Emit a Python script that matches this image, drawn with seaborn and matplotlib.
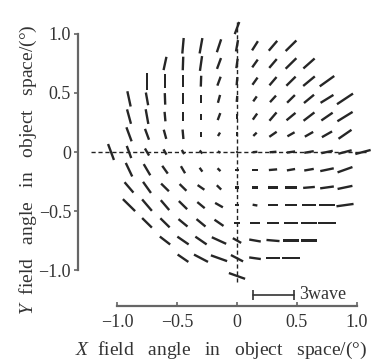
import numpy as np
import matplotlib.pyplot as plt
import seaborn as sns

# field grid: step between field points (deg), rows listed from top (k=7) to bottom (k=-7)
step = 0.15
row_k = [7, 6, 5, 4, 3, 2, 1, 0, -1, -2, -3, -4, -5, -6, -7]

# orientation of each astigmatic line (deg, from +x), left to right in each row
row_angles = [
    [70],
    [85, 80, 72, 80, 58, 50, 45],
    [78, 88, 82, 70, 82, 55, 50, 45, 42],
    [90, 90, 90, 88, 70, 85, 55, 50, 45, 40, 36],
    [102, 100, 92, 90, 90, 75, 85, 55, 48, 45, 40, 32, 34],
    [105, 100, 95, 90, 90, 70, 90, 55, 50, 40, 38, 35, 32],
    [110, 110, 105, 95, 90, 60, 90, 45, 35, 30, 30, 30, 35],
    [110, 110, 120, 120, 120, 130, 150, 0, 5, 5, 8, 10, 12, 15, 15],
    [115, 120, 125, 120, 125, 135, 0, 0, 5, 10, 10, 12, 20],
    [130, 125, 135, 135, 145, 135, 0, 0, 0, 0, 5, 8, 12],
    [135, 130, 130, 135, 140, 150, 0, 170, 0, 0, 0, 0, 8],
    [135, 135, 140, 140, 145, 0, 0, 0, 0, 0, 0],
    [142, 145, 145, 155, 150, 170, 175, 0, 0],
    [145, 152, 160, 152, 172, 180, 180],
    [160],
]

# magnitude of each line (waves)
row_lengths = [
    [0.95],
    [1.15, 1.15, 1.0, 0.85, 0.8, 0.95, 1.1],
    [1.0, 1.0, 1.1, 0.85, 0.7, 0.7, 0.85, 1.1, 1.1],
    [1.25, 1.0, 0.85, 0.8, 0.7, 0.6, 0.65, 0.8, 0.95, 1.1, 1.3],
    [1.15, 0.95, 0.85, 0.8, 0.6, 0.6, 0.45, 0.45, 0.65, 0.8, 0.95, 1.1, 1.4],
    [1.1, 1.1, 0.7, 0.7, 0.45, 0.55, 0.35, 0.55, 0.8, 0.85, 1.0, 1.0, 1.3],
    [1.1, 0.85, 0.7, 0.7, 0.35, 0.3, 0.3, 0.35, 0.65, 0.6, 0.7, 0.85, 1.15],
    [1.25, 0.95, 0.6, 0.45, 0.35, 0.3, 0.2, 0.1, 0.35, 0.5, 0.6, 0.7, 0.85, 1.0, 1.15],
    [1.1, 0.95, 0.7, 0.6, 0.35, 0.3, 0.3, 0.45, 0.6, 0.6, 0.7, 1.0, 1.15],
    [1.0, 1.0, 0.8, 0.7, 0.6, 0.45, 0.35, 0.45, 0.7, 0.8, 0.85, 1.0, 1.1],
    [1.25, 1.1, 0.95, 0.85, 0.7, 0.65, 0.35, 0.35, 0.7, 0.85, 1.0, 1.15, 1.25],
    [1.0, 0.95, 0.85, 0.85, 0.8, 0.45, 0.7, 0.85, 1.0, 1.1, 1.25],
    [0.95, 1.0, 1.0, 1.15, 0.7, 0.85, 0.95, 1.1, 1.15],
    [0.95, 1.15, 1.25, 1.0, 0.85, 0.95, 1.25],
    [1.25],
]

wave_scale = 0.115      # deg of field per wave
bar_waves = 3
ticks = [-1.0, -0.5, 0, 0.5, 1.0]
xtick_labels = ["\u22121.0", "\u22120.5", "0", "0.5", "1.0"]
ytick_labels = ["\u22121.0", "\u22120.5", "0", "0.5", "1.0"]

sns.set_theme(style="ticks")
plt.rcParams["font.family"] = ["Liberation Serif", "DejaVu Serif"]
plt.rcParams["mathtext.fontset"] = "custom"
plt.rcParams["mathtext.it"] = "Liberation Serif:italic"
plt.rcParams["mathtext.rm"] = "Liberation Serif"

xs, ys, us, vs = [], [], [], []
for k, ang, ln in zip(row_k, row_angles, row_lengths):
    n = len(ang)
    half = (n - 1) // 2
    a = np.radians(ang)
    l = np.array(ln)
    xs += list((np.arange(n) - half) * step)
    ys += [k * step] * n
    us += list(l * np.cos(a))
    vs += list(l * np.sin(a))

fig = plt.figure(figsize=(3.73, 3.62), dpi=100)
ax = fig.add_axes([0.2043, 0.1497, 0.7914, 0.7956])
ax.set_xlim(-1.34, 1.12)
ax.set_ylim(-1.32, 1.12)

# dashed field axes
ax.plot([-1.22, 1.08], [0, 0], ls=(0, (3, 2)), color="#222222", lw=1.0, zorder=1)
ax.plot([0, 0], [-1.1, 1.1], ls=(0, (3, 2)), color="#222222", lw=1.0, zorder=1)

ax.quiver(xs, ys, us, vs, angles="xy", scale_units="xy", scale=1 / wave_scale,
          pivot="middle", headwidth=1, headlength=0, headaxislength=0,
          width=0.008, color="#262626", zorder=2)

# scale bar
bx = 0.13
ax.plot([bx, bx + bar_waves * wave_scale], [-1.21, -1.21], color="#333333", lw=1.2,
        marker="|", markersize=7, markeredgewidth=1.2)
ax.text(bx + bar_waves * wave_scale + 0.04, -1.21, f"{bar_waves}wave", fontsize=13,
        va="center", ha="left", color="#333333")

for s in ["top", "right"]:
    ax.spines[s].set_visible(False)
ax.spines["left"].set_position(("data", -1.325))
ax.spines["left"].set_bounds(-1, 1)
ax.spines["bottom"].set_position(("data", -1.305))
ax.spines["bottom"].set_bounds(-1, 1)
for s in ["left", "bottom"]:
    ax.spines[s].set_color("#666666")
    ax.spines[s].set_linewidth(1.6)

ax.set_xticks(ticks)
ax.set_xticklabels(xtick_labels)
ax.set_yticks(ticks)
ax.set_yticklabels(ytick_labels)
ax.tick_params(axis="x", direction="in", length=3, width=1.2, colors="#666666",
               labelcolor="#333333", labelsize=13, pad=6)
ax.tick_params(axis="y", direction="out", length=3, width=1.2, colors="#666666",
               labelcolor="#333333", labelsize=13, pad=2)

ax.set_xlabel("$X$  field   angle   in   object   space/(\u00b0)", fontsize=14, color="#333333")
ax.set_ylabel("$Y$  field   angle   in   object   space/(\u00b0)", fontsize=14, color="#333333")
ax.xaxis.set_label_coords(0.49, -0.112)
ax.yaxis.set_label_coords(-0.125, 0.48)

fig.savefig("out.png", dpi=100)
